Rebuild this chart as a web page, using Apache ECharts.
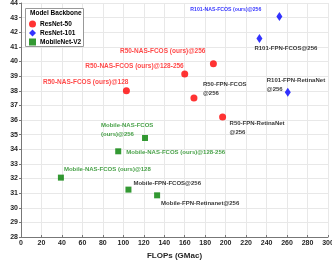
<!DOCTYPE html>
<html><head><meta charset="utf-8">
<script src="https://cdn.jsdelivr.net/npm/echarts@6/dist/echarts.min.js"></script>
<style>html,body{margin:0;padding:0;background:#fff}#c{width:332px;height:260px}</style>
</head><body><div id="c"></div>
<script>
// ---- data ----
const xTicks = [0,20,40,60,80,100,120,140,160,180,200,220,240,260,280,300];
const yTicks = [28,29,30,31,32,33,34,35,36,37,38,39,40,41,42,43,44];
const seriesNames = ['ResNet-50','ResNet-101','MobileNet-V2'];

const resnet50Flops = [103, 160, 188, 169, 197];
const resnet50AP    = [38.0, 39.15, 39.85, 37.5, 36.2];
const resnet50Labels = ['R50-NAS-FCOS (ours)@128','R50-NAS-FCOS (ours)@128-256','R50-NAS-FCOS (ours)@256','R50-FPN-FCOS\n@256','R50-FPN-RetinaNet\n@256'];

const resnet101Flops = [252.5, 233, 260.7];
const resnet101AP    = [43.08, 41.58, 37.89];
const resnet101Labels = ['R101-NAS-FCOS (ours)@256','R101-FPN-FCOS@256','R101-FPN-RetinaNet\n@256'];

const mobileFlops = [121.2, 95, 39, 105, 133];
const mobileAP    = [34.77, 33.86, 32.06, 31.24, 30.85];
const mobileLabels = ['Mobile-NAS-FCOS\n(ours)@256','Mobile-NAS-FCOS (ours)@128-256','Mobile-NAS-FCOS (ours)@128','Mobile-FPN-FCOS@256','Mobile-FPN-Retinanet@256'];

// ---- label layout (offset from point in px, alignment, colour key) ----
const resnet50Layout = [[2,-9,'right','s'],[-1,-8,'right','s'],[-8,-12,'right','s'],[9,-9,'left','k'],[7,11,'left','k']];
const resnet101Layout = [[-18,-7,'right','s'],[-5,10,'left','k'],[-21,-8,'left','k']];
const mobileLayout = [[-44,-8,'left','s'],[8,1,'left','s'],[3,-8,'left','s'],[5,-6,'left','k'],[4,8,'left','k']];

const FONT = 'Liberation Sans, Arial, sans-serif';
function build(xs, ys, labels, layout, color, size){
  return xs.map((x,i)=>({
    value:[x, ys[i]],
    label:{
      show:true, position:'inside', formatter:labels[i],
      align:layout[i][2], verticalAlign:'middle',
      offset:[layout[i][0], layout[i][1]],
      color: layout[i][3]==='k' ? '#000' : color,
      fontSize: layout[i][3]==='k' ? 6 : size,
      fontWeight:'bold', fontFamily:FONT, lineHeight:9
    }
  }));
}

const chart = echarts.init(document.getElementById('c'), null, {renderer:'canvas'});
const axisLabelStyle = {fontSize:7, color:'#262626', fontFamily:FONT, fontWeight:'bold'};
chart.setOption({
  animation:false,
  grid:{left:21, right:4, top:3, bottom:23, containLabel:false, outerBoundsMode:'none'},
  xAxis:{
    type:'value', min:xTicks[0], max:xTicks[xTicks.length-1], interval:20,
    name:'FLOPs (GMac)', nameLocation:'middle', nameGap:14,
    nameTextStyle:{fontSize:8, fontWeight:'bold', color:'#262626', fontFamily:FONT},
    axisLine:{show:true, lineStyle:{color:'#777', width:1}},
    axisTick:{show:true, inside:true, length:2, lineStyle:{color:'#777'}},
    axisLabel:Object.assign({margin:3}, axisLabelStyle),
    splitLine:{show:true, lineStyle:{color:'#e8e8e8', width:1}}
  },
  yAxis:{
    type:'value', min:yTicks[0], max:yTicks[yTicks.length-1], interval:1,
    name:'AP', nameLocation:'middle', nameGap:13, nameRotate:90,
    nameTextStyle:{fontSize:8, fontWeight:'bold', color:'#262626', fontFamily:FONT},
    axisLine:{show:true, lineStyle:{color:'#777', width:1}},
    axisTick:{show:true, inside:false, length:2, lineStyle:{color:'#777'}},
    axisLabel:Object.assign({margin:3}, axisLabelStyle),
    splitLine:{show:true, lineStyle:{color:'#e8e8e8', width:1}}
  },
  graphic:[
    {type:'rect', left:25, top:8, z:3, shape:{width:58, height:38}, style:{fill:'#fff', stroke:'#999', lineWidth:1}},
    {type:'text', left:30, top:10, z:4, style:{text:'Model Backbone', fontSize:6.5, fontWeight:'bold', fill:'#000', fontFamily:FONT}}
  ],
  legend:{
    show:true, orient:'vertical', left:29, top:20.5, itemGap:2, itemWidth:7, itemHeight:7, padding:0, z:5,
    textStyle:{fontSize:6.5, fontWeight:'bold', color:'#000', fontFamily:FONT, padding:[0,0,0,-1]},
    data:seriesNames
  },
  series:[
    {name:seriesNames[0], type:'scatter', symbol:'circle', symbolSize:7, itemStyle:{color:'#ff0000'},
     data:build(resnet50Flops, resnet50AP, resnet50Labels, resnet50Layout, '#ff1a1a', 6.5)},
    {name:seriesNames[1], type:'scatter', symbol:'diamond', symbolSize:[6,9], itemStyle:{color:'#0000ff'},
     data:build(resnet101Flops, resnet101AP, resnet101Labels, resnet101Layout, '#0000ff', 5.2)},
    {name:seriesNames[2], type:'scatter', symbol:'rect', symbolSize:6, itemStyle:{color:'#008000'},
     data:build(mobileFlops, mobileAP, mobileLabels, mobileLayout, '#1a8a1a', 6)}
  ]
});
</script></body></html>
